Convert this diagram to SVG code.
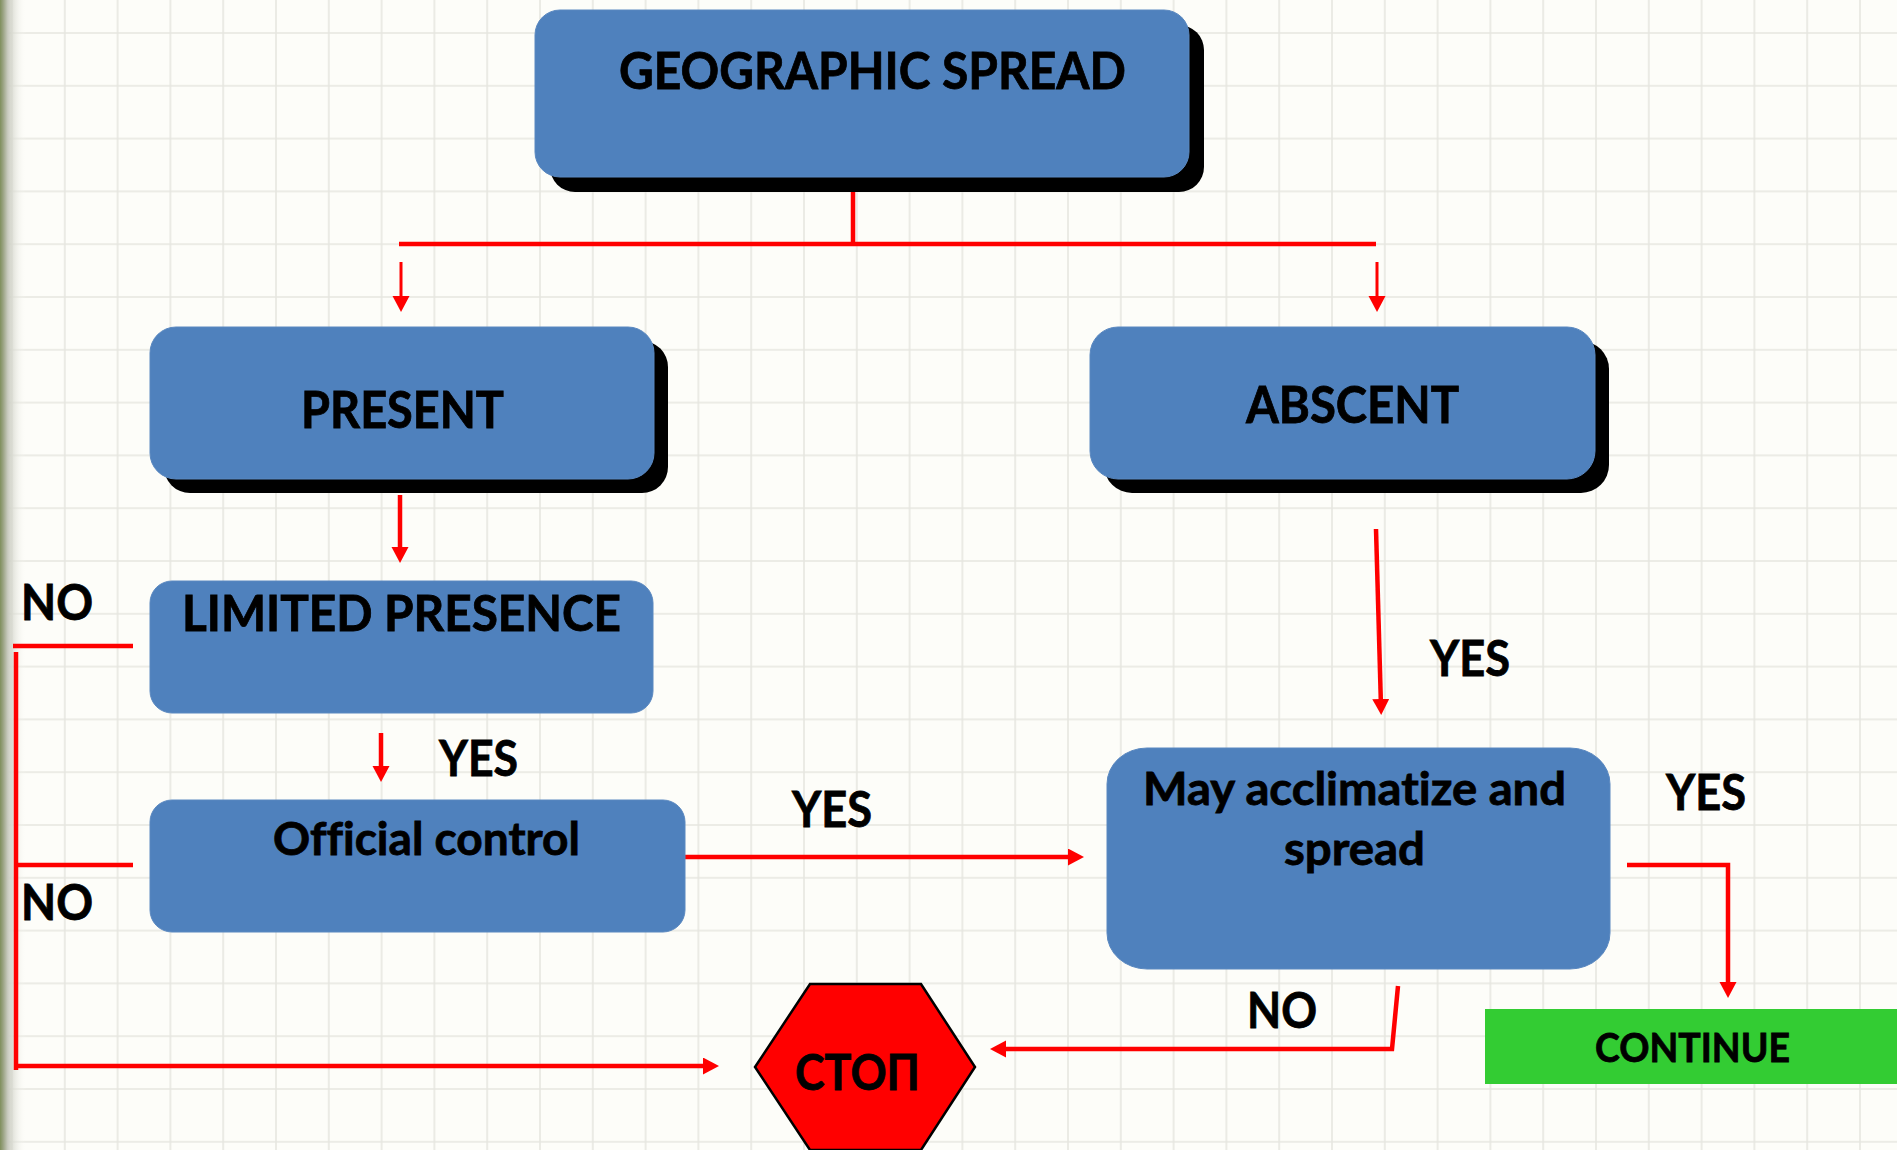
<svg xmlns="http://www.w3.org/2000/svg" width="1897" height="1150" viewBox="0 0 1897 1150">
<defs>
<pattern id="grid" x="11" y="32" width="52.8" height="52.8" patternUnits="userSpaceOnUse">
<path d="M1,0 V52.8 M0,1 H52.8" stroke="#e6e6e0" stroke-width="1.6" fill="none"/>
</pattern>
<linearGradient id="edge" x1="0" y1="0" x2="1" y2="0">
<stop offset="0" stop-color="#7f8f5c"/>
<stop offset="0.12" stop-color="#9aa383"/>
<stop offset="0.3" stop-color="#c9cbc0"/>
<stop offset="1" stop-color="#fdfdf9" stop-opacity="0"/>
</linearGradient>
<marker id="ah" markerUnits="userSpaceOnUse" markerWidth="18" markerHeight="18" refX="8" refY="8.5" orient="auto">
<path d="M0,0 L16,8.5 L0,17 z" fill="#ff0000"/>
</marker>
<style>
.box{fill:#4f81bd;stroke:#5a88c0;stroke-width:1}
.shadow{fill:#000}
.t{font-family:Lato,"Open Sans","Liberation Sans",sans-serif;font-weight:700;fill:#000;stroke:#000;stroke-width:0.8;font-variant-ligatures:none}
.lbl{font-family:Lato,"Open Sans","Liberation Sans",sans-serif;font-weight:700;fill:#000;stroke:#000;stroke-width:0.8;font-size:49px}
.c{fill:none;stroke:#ff0000;stroke-width:4.5}
.ca{fill:none;stroke:#ff0000;stroke-width:4.5;marker-end:url(#ah)}
.thin{stroke-width:3}
</style>
</defs>
<rect width="1897" height="1150" fill="#fdfdf9"/>
<rect width="1897" height="1150" fill="url(#grid)"/>
<rect x="0" y="0" width="26" height="1150" fill="url(#edge)"/>

<g id="connectors">
<path class="c" d="M853,177 V244"/>
<path class="c" d="M399,244 H1376"/>
<path class="ca thin" d="M401,262 V304"/>
<path class="ca thin" d="M1377,262 V304"/>
<path class="ca" d="M400,495 V555"/>
<path class="ca" d="M381,733 V774"/>
<path class="ca" d="M685,857 H1076"/>
<path class="ca" d="M1376,529 L1381,707"/>
<path class="ca" d="M1627,865 H1728 V990"/>
<path class="ca" d="M1398,986 L1392,1049 H998"/>
<path class="c" d="M13,646 H133"/>
<path class="c" d="M16,652 V1070"/>
<path class="c" d="M16,865 H133"/>
<path class="ca" d="M16,1066 H711"/>
</g>

<g id="geographic-spread">
<rect class="shadow" x="550" y="25" width="654" height="167" rx="25"/>
<rect class="box" x="535" y="10" width="654" height="167" rx="25"/>
<text class="t" x="619" y="89" font-size="52" textLength="507" lengthAdjust="spacingAndGlyphs">GEOGRAPHIC SPREAD</text>
</g>

<g id="present">
<rect class="shadow" x="164" y="341" width="504" height="152" rx="26"/>
<rect class="box" x="150" y="327" width="504" height="152" rx="26"/>
<text class="t" x="301" y="428" font-size="51" textLength="203" lengthAdjust="spacingAndGlyphs">PRESENT</text>
</g>

<g id="abscent">
<rect class="shadow" x="1104" y="341" width="505" height="152" rx="28"/>
<rect class="box" x="1090" y="327" width="505" height="152" rx="28"/>
<text class="t" x="1246" y="423" font-size="51" textLength="213" lengthAdjust="spacingAndGlyphs">ABSCENT</text>
</g>

<g id="limited-presence">
<rect class="box" x="150" y="581" width="503" height="132" rx="22"/>
<text class="t" x="182" y="631" font-size="49" textLength="439" lengthAdjust="spacingAndGlyphs">LIMITED PRESENCE</text>
</g>

<g id="official-control">
<rect class="box" x="150" y="800" width="535" height="132" rx="22"/>
<text class="t" x="273" y="855" font-size="46" textLength="307" lengthAdjust="spacingAndGlyphs">Official control</text>
</g>

<g id="may-acclimatize">
<rect class="box" x="1107" y="748" width="503" height="221" rx="40" ry="36"/>
<text class="t" x="1143" y="805" font-size="46" textLength="423" lengthAdjust="spacingAndGlyphs">May acclimatize and</text>
<text class="t" x="1284" y="865" font-size="46" textLength="141" lengthAdjust="spacingAndGlyphs">spread</text>
</g>

<g id="stop">
<polygon points="810,984 921,984 975,1067 921,1150 810,1150 755,1067" fill="#ff0000" stroke="#000" stroke-width="2.5"/>
<text class="t" x="795" y="1090" font-size="49" textLength="125" lengthAdjust="spacingAndGlyphs">СТОП</text>
</g>

<g id="continue">
<rect x="1485" y="1009" width="412" height="75" fill="#33cc33"/>
<text class="t" x="1595" y="1062" font-size="40" textLength="195" lengthAdjust="spacingAndGlyphs">CONTINUE</text>
</g>

<g id="labels">
<text class="lbl" x="21" y="620" textLength="72" lengthAdjust="spacingAndGlyphs">NO</text>
<text class="lbl" x="21" y="920" textLength="72" lengthAdjust="spacingAndGlyphs">NO</text>
<text class="lbl" x="439" y="776" textLength="79" lengthAdjust="spacingAndGlyphs">YES</text>
<text class="lbl" x="792" y="827" textLength="80" lengthAdjust="spacingAndGlyphs">YES</text>
<text class="lbl" x="1430" y="676" textLength="80" lengthAdjust="spacingAndGlyphs">YES</text>
<text class="lbl" x="1666" y="810" textLength="80" lengthAdjust="spacingAndGlyphs">YES</text>
<text class="lbl" x="1247" y="1028" textLength="70" lengthAdjust="spacingAndGlyphs">NO</text>
</g>
</svg>
